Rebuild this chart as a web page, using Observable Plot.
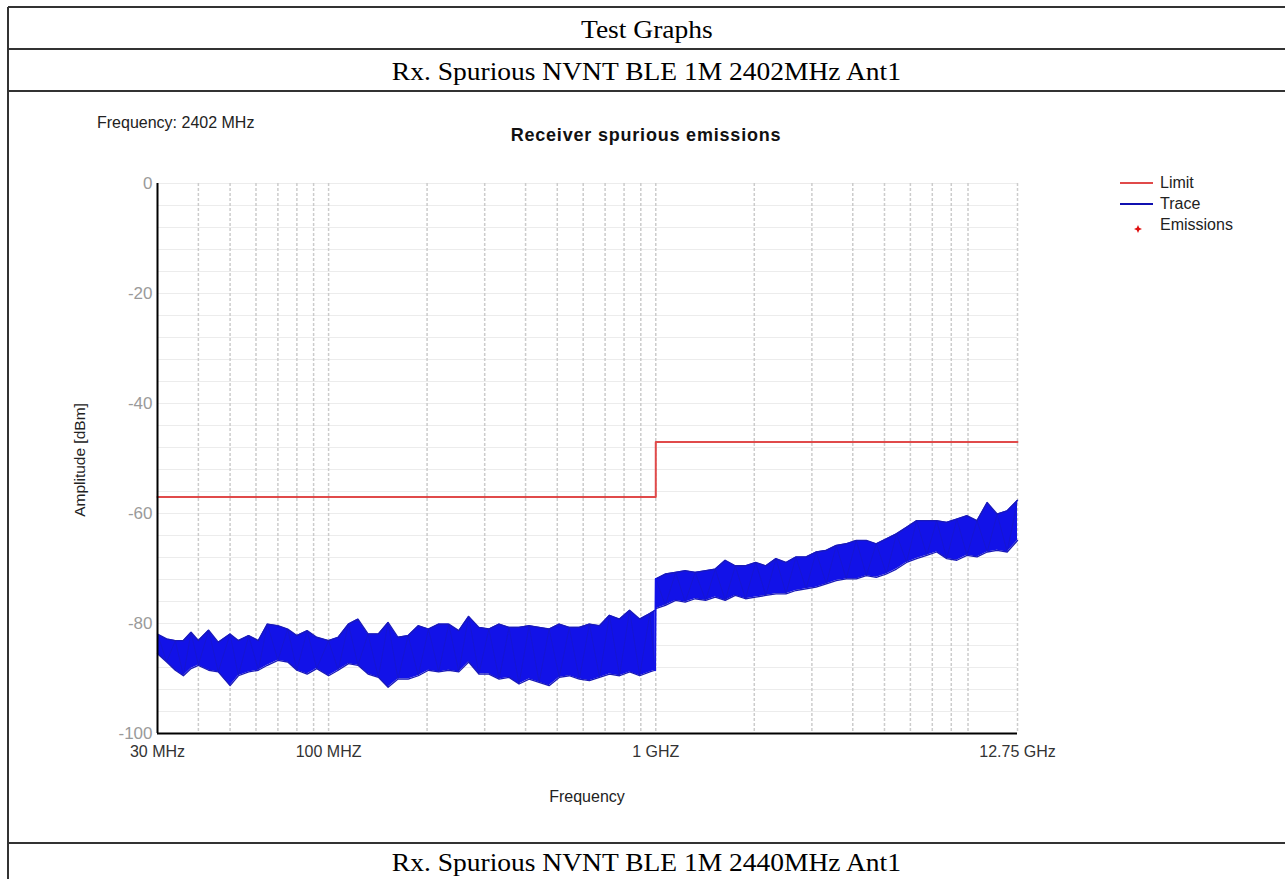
<!DOCTYPE html>
<html><head><meta charset="utf-8">
<script src="https://cdn.jsdelivr.net/npm/d3@7"></script>
<script src="https://cdn.jsdelivr.net/npm/@observablehq/plot@0.6"></script>
<style>
html,body{margin:0;padding:0;background:#fff}
body{width:1285px;height:879px;position:relative;overflow:hidden;font-family:"Liberation Sans",Arial,sans-serif}
.hline{position:absolute;left:8px;width:1277px;height:0;border-top:2px solid #333}
.vline{position:absolute;top:7px;height:872px;width:0;border-left:2px solid #333}
.hdr{position:absolute;left:8px;width:1277px;text-align:center;font-family:"Liberation Serif","Times New Roman",serif;font-size:25px;color:#000;line-height:1}
.hdr span{display:inline-block;transform:scaleX(1.1)}
#chart{position:absolute;left:8px;top:91px}
.t{position:absolute;white-space:nowrap;color:#222;line-height:1}
</style></head><body>
<div class="hline" style="top:6px"></div>
<div class="hline" style="top:48px"></div>
<div class="hline" style="top:90px"></div>
<div class="hline" style="top:842px"></div>
<div class="vline" style="left:7px"></div>
<div class="hdr" style="top:17px"><span>Test Graphs</span></div>
<div class="hdr" style="top:59px"><span>Rx. Spurious NVNT BLE 1M 2402MHz Ant1</span></div>
<div class="hdr" style="top:850px"><span>Rx. Spurious NVNT BLE 1M 2440MHz Ant1</span></div>
<div id="chart"></div>
<div class="t" style="left:97px;top:115px;font-size:16px">Frequency: 2402 MHz</div>
<div class="t" style="left:646px;top:126px;font-size:18px;font-weight:bold;letter-spacing:0.8px;transform:translateX(-50%);color:#111">Receiver spurious emissions</div>
<div class="t" style="left:80px;top:460px;font-size:15.5px;transform:translate(-50%,-50%) rotate(-90deg)">Amplitude [dBm]</div>
<div class="t" style="left:587px;top:789px;font-size:16px;transform:translateX(-50%)">Frequency</div>
<div id="legend"></div>
<script>
// ---- data ----
const xTicks = [30, 100, 1000, 12750];
const xTickLabels = ["30 MHz", "100 MHZ", "1 GHZ", "12.75 GHz"];
const yTicks = [0, -20, -40, -60, -80, -100];
const yTickLabels = ["0", "-20", "-40", "-60", "-80", "-100"];

// Limit line (MHz, dBm)
const limitFreq = [30, 1000, 12750];
const limitVal = [-57, -47, -47];

// Trace envelope, 30 MHz - 1 GHz (MHz, upper dBm, lower dBm)
const seg1Freq = [30,32,34,36,38,40,43,46,50,53,57,61,65,70,75,80,86,92,100,107,115,123,132,142,152,163,175,188,202,217,233,250,268,288,309,332,356,382,410,440,472,507,544,584,627,673,722,775,832,893,959,995];
const seg1Hi = [-81.9,-82.8,-83.1,-83.1,-81.6,-83.1,-81.2,-83.4,-81.9,-83.1,-82.2,-83.1,-80.1,-80.4,-81.0,-82.2,-81.3,-82.5,-83.1,-82.5,-80.1,-79.2,-81.9,-81.9,-79.8,-82.5,-82.2,-80.4,-81.0,-80.1,-80.1,-81.3,-78.7,-80.7,-81.0,-80.1,-80.7,-80.7,-80.4,-80.7,-81.0,-80.1,-80.7,-80.7,-80.1,-80.4,-78.5,-79.2,-77.6,-79.2,-78.2,-77.6];
const seg1Lo = [-85.5,-87.0,-88.5,-89.5,-88.2,-87.6,-88.5,-88.8,-91.3,-89.5,-88.8,-88.5,-87.6,-86.7,-87.0,-88.5,-89.2,-88.2,-89.5,-88.5,-87.3,-87.6,-89.2,-89.8,-91.6,-90.1,-90.1,-89.5,-88.5,-88.8,-88.5,-88.8,-87.0,-89.2,-89.2,-90.1,-89.8,-91.0,-90.1,-90.7,-91.3,-89.8,-89.5,-90.1,-90.4,-89.8,-89.2,-89.5,-88.8,-89.5,-88.8,-88.5];

// Trace envelope, 1 GHz - 12.75 GHz
const seg2Freq = [1000,1070,1150,1230,1320,1420,1520,1630,1750,1880,2020,2170,2330,2500,2680,2880,3090,3320,3560,3820,4100,4400,4720,5070,5440,5840,6270,6730,7220,7750,8320,8930,9590,10300,11050,11860,12750];
const seg2Hi = [-71.9,-71.0,-70.7,-70.4,-70.7,-70.4,-70.1,-68.5,-69.5,-69.5,-68.9,-69.5,-68.2,-68.9,-67.9,-67.9,-67.0,-66.7,-65.8,-65.5,-64.9,-64.9,-65.5,-64.6,-63.7,-62.5,-61.3,-61.3,-61.3,-61.6,-61.0,-60.4,-61.3,-58.0,-60.1,-59.5,-57.6];
const seg2Lo = [-77.3,-76.7,-75.8,-76.1,-75.5,-75.8,-75.2,-75.8,-74.9,-75.5,-75.2,-74.9,-74.6,-74.6,-74.0,-73.7,-73.4,-72.8,-72.2,-71.9,-71.9,-71.3,-71.6,-71.0,-70.1,-68.9,-68.2,-67.6,-67.0,-68.2,-68.5,-67.6,-67.9,-67.0,-66.7,-67.0,-64.9];

// ---- build tables ----
const trace = [
  ...seg1Freq.map((f, i) => ({f, hi: seg1Hi[i], lo: seg1Lo[i], seg: 1})),
  ...seg2Freq.map((f, i) => ({f, hi: seg2Hi[i], lo: seg2Lo[i], seg: 2}))
];
// zig-zag path through the read envelope points (upper, lower, upper, ...)
const zig = trace.map((d, i) => ({f: d.f, v: i % 2 ? d.lo : d.hi, seg: d.seg}));
const limit = limitFreq.map((f, i) => ({f, v: limitVal[i]}));
const jump = [
  {f: seg1Freq[seg1Freq.length - 1], v: seg1Lo[seg1Lo.length - 1]},
  {f: seg2Freq[0], v: seg2Hi[0]}
];
const vGrid = [];
for (const dec of [10, 100, 1000]) for (let m = 1; m <= 9; m++) {
  const v = dec * m; if (v > 30 && v <= 12750) vGrid.push(v);
}
vGrid.push(12750);
const hGrid = d3.range(-96, 1, 4);

const BLUE = "#1212e8", EDGE = "#1a1ab8", RED = "#e04a4a";

const chart = Plot.plot({
  width: 1276, height: 752,
  marginLeft: 149, marginRight: 267, marginTop: 92, marginBottom: 110,
  style: {fontFamily: "Liberation Sans, Arial, sans-serif", background: "transparent", overflow: "visible"},
  x: {type: "log", domain: [30, 12750]},
  y: {domain: [-100, 0]},
  marks: [
    Plot.ruleY(hGrid, {stroke: "#ececec", strokeWidth: 1}),
    Plot.ruleX(vGrid, {stroke: "#cccccc", strokeWidth: 1.5, strokeDasharray: "3,2"}),
    Plot.areaY(trace, {x: "f", y1: "lo", y2: "hi", z: "seg", fill: BLUE}),
    Plot.line(zig, {x: "f", y: "v", z: "seg", stroke: EDGE, strokeWidth: 0.8, strokeOpacity: 0.6}),
    Plot.line(trace, {x: "f", y: "hi", z: "seg", stroke: EDGE, strokeWidth: 1.3}),
    Plot.line(trace, {x: "f", y: "lo", z: "seg", stroke: EDGE, strokeWidth: 1.3}),
    Plot.line(jump, {x: "f", y: "v", stroke: BLUE, strokeWidth: 2}),
    Plot.line(limit, {x: "f", y: "v", stroke: RED, strokeWidth: 2, curve: "step-after"}),
    Plot.ruleX([30], {stroke: "#000", strokeWidth: 2}),
    Plot.ruleY([-100], {stroke: "#000", strokeWidth: 2}),
    Plot.axisY({ticks: yTicks, tickSize: 0, tickPadding: 5, fontSize: 17, color: "#9a9a9a", label: null,
      tickFormat: d => yTickLabels[yTicks.indexOf(d)]}),
    Plot.axisX({ticks: xTicks, tickSize: 0, tickPadding: 12, fontSize: 16, color: "#333", label: null,
      tickFormat: d => xTickLabels[xTicks.indexOf(d)]})
  ]
});
document.getElementById("chart").appendChild(chart);

// ---- legend ----
const legendItems = [
  {name: "Limit", color: RED, kind: "line"},
  {name: "Trace", color: "#1010b0", kind: "line"},
  {name: "Emissions", color: "#e01010", kind: "star"}
];
const lg = document.getElementById("legend");
legendItems.forEach((it, i) => {
  const cy = 183 + i * 21;
  const sw = document.createElement("div");
  sw.style.position = "absolute";
  if (it.kind === "line") {
    Object.assign(sw.style, {left: "1120px", top: (cy - 1) + "px", width: "33px", height: "2px", background: it.color});
  } else {
    sw.innerHTML = `<svg width="10" height="10" viewBox="-5 -5 10 10"><path d="M0,-4 L1.2,-1.2 L4,0 L1.2,1.2 L0,4 L-1.2,1.2 L-4,0 L-1.2,-1.2Z" fill="${it.color}"/></svg>`;
    Object.assign(sw.style, {left: "1133px", top: (cy - 5) + "px", width: "10px", height: "10px"});
  }
  lg.appendChild(sw);
  const tx = document.createElement("div");
  tx.className = "t";
  tx.textContent = it.name;
  Object.assign(tx.style, {left: "1160px", top: (cy - 8) + "px", fontSize: "16px"});
  lg.appendChild(tx);
});
</script>
</body></html>
